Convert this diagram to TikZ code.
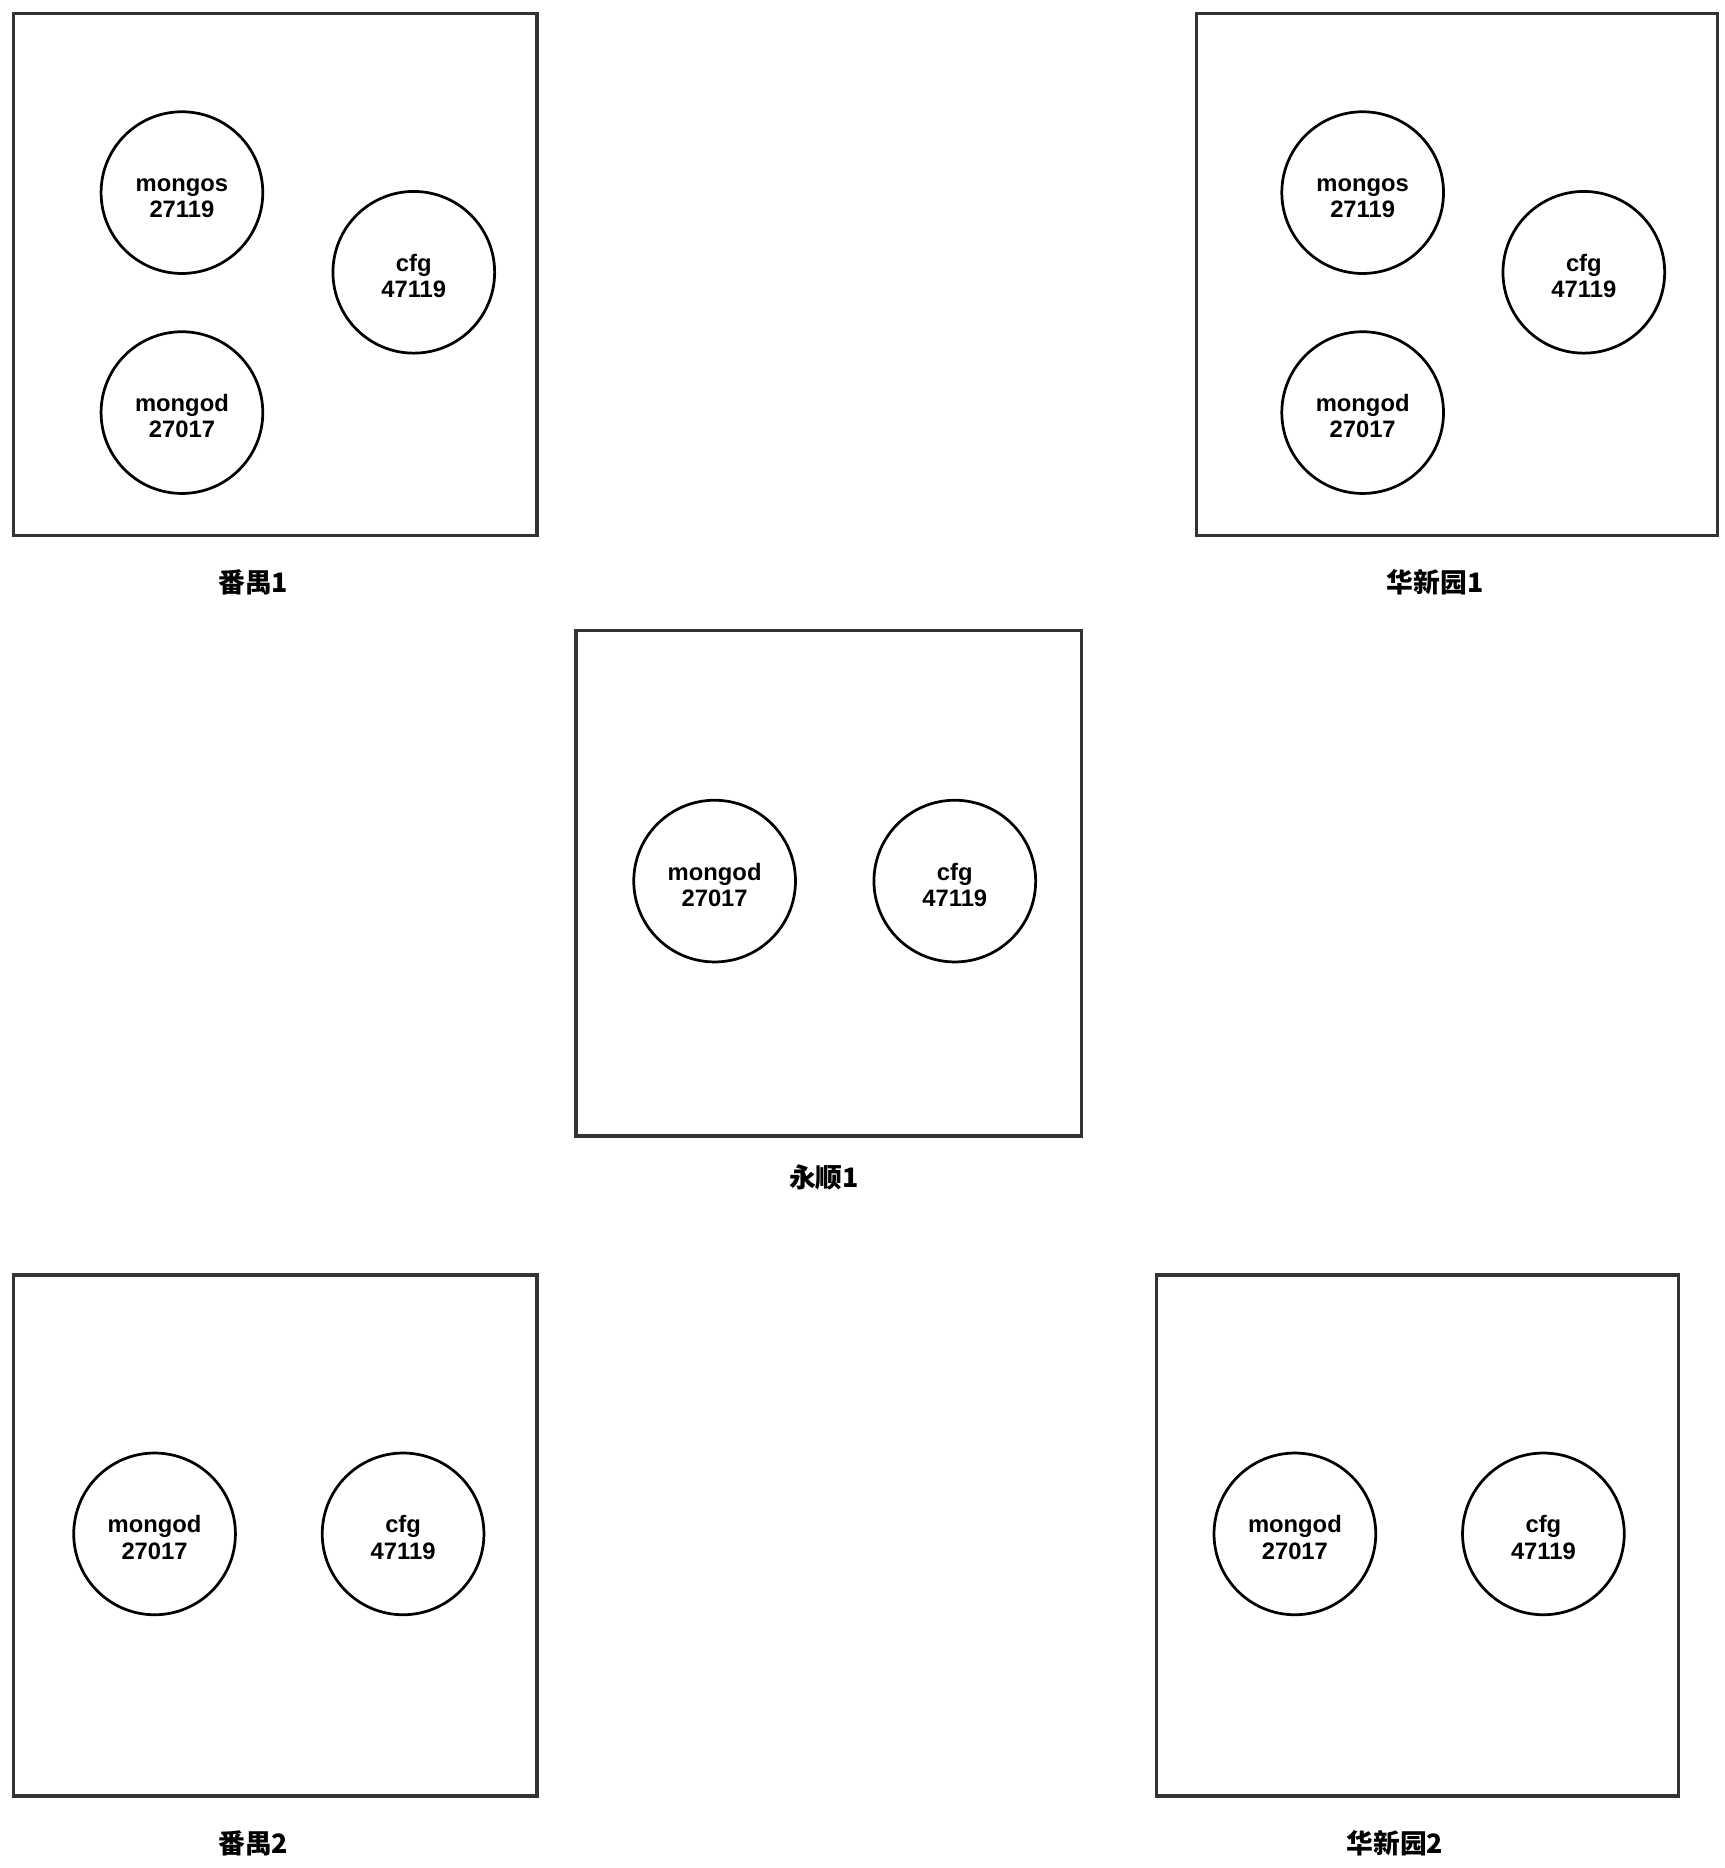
\documentclass[tikz,border=0pt]{standalone}
\usepackage{fontspec}
\setmainfont{Liberation Sans}
\newfontfamily\cjk{Noto Sans CJK SC}
\definecolor{boxgray}{HTML}{333333}
\newcommand{\svctxt}[2]{\rule{0pt}{20.5pt}#1\\#2}
\begin{document}
\begin{tikzpicture}[x=1pt,y=-1pt,
  box/.style={draw=boxgray,line width=2.9pt,inner sep=0pt,anchor=north west},
  svc/.style={circle,draw=black,line width=2.3pt,minimum size=136pt,inner sep=0pt,align=center,
    font=\fontsize{20}{22}\selectfont\bfseries},
  lbl/.style={font=\cjk\fontsize{22.5}{24}\selectfont\bfseries}]
\useasboundingbox (0,0) rectangle (1450,1571);
\fill[white] (0,0) rectangle (1450,1571);

% 番禺1
\node[box,minimum width=440pt,minimum height=439pt] (boxA) at (10,10) {};
\node[svc] (Amongos) at (153,162) {\svctxt{mongos}{27119}};
\node[svc] (Acfg) at (348,229) {\svctxt{cfg}{47119}};
\node[svc] (Amongod) at (153,347) {\svctxt{mongod}{27017}};
\node[lbl] (labA) at (213,490) {番禺1};

% 华新园1
\node[box,minimum width=438pt,minimum height=439pt] (boxB) at (1005,10) {};
\node[svc] (Bmongos) at (1146,162) {\svctxt{mongos}{27119}};
\node[svc] (Bcfg) at (1332,229) {\svctxt{cfg}{47119}};
\node[svc] (Bmongod) at (1146,347) {\svctxt{mongod}{27017}};
\node[lbl] (labB) at (1207,490) {华新园1};

% 永顺1
\node[box,minimum width=425pt,minimum height=425pt] (boxC) at (483,529) {};
\node[svc] (Cmongod) at (601,741) {\svctxt{mongod}{27017}};
\node[svc] (Ccfg) at (803,741) {\svctxt{cfg}{47119}};
\node[lbl] (labC) at (693,990) {永顺1};

% 番禺2
\node[box,minimum width=440pt,minimum height=438pt] (boxD) at (10,1071) {};
\node[svc] (Dmongod) at (130,1290) {\svctxt{mongod}{27017}};
\node[svc] (Dcfg) at (339,1290) {\svctxt{cfg}{47119}};
\node[lbl] (labD) at (213,1550) {番禺2};

% 华新园2
\node[box,minimum width=439pt,minimum height=438pt] (boxE) at (971,1071) {};
\node[svc] (Emongod) at (1089,1290) {\svctxt{mongod}{27017}};
\node[svc] (Ecfg) at (1298,1290) {\svctxt{cfg}{47119}};
\node[lbl] (labE) at (1173,1550) {华新园2};
\end{tikzpicture}
\end{document}
